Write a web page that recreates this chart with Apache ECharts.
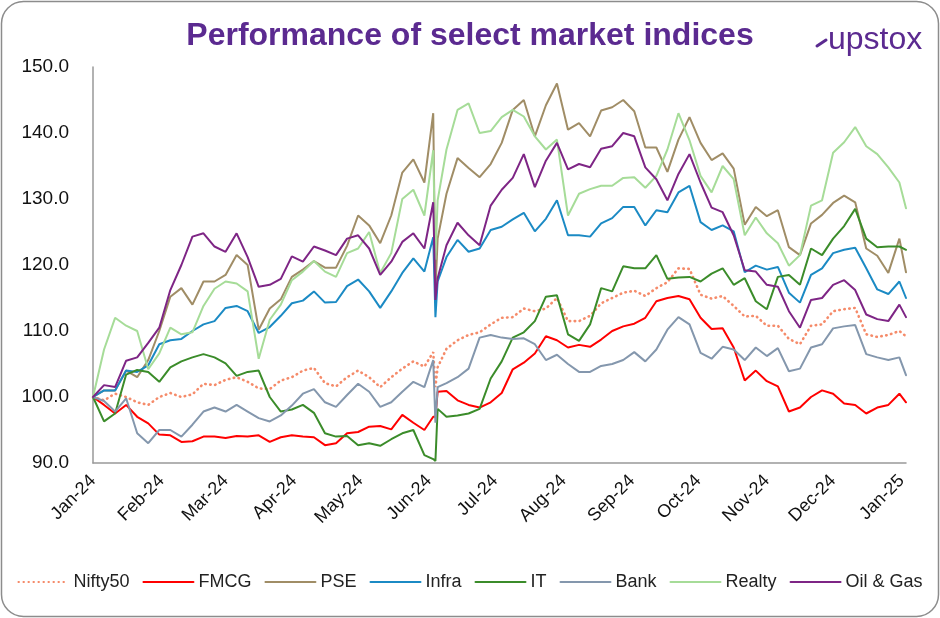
<!DOCTYPE html>
<html><head><meta charset="utf-8">
<script src="https://cdn.jsdelivr.net/npm/echarts@6/dist/echarts.min.js"></script>
<style>html,body{margin:0;padding:0;background:#fff}#c{width:940px;height:618px}</style>
</head><body><div id="c"></div>
<script>
// Sample dates (roughly every 5 calendar days, plus 3-5 June 2024)
const sampleDates = ['2024-01-01','2024-01-06','2024-01-11','2024-01-16','2024-01-21','2024-01-26','2024-01-31','2024-02-05','2024-02-10','2024-02-15','2024-02-20','2024-02-25','2024-03-01','2024-03-06','2024-03-11','2024-03-16','2024-03-21','2024-03-26','2024-03-31','2024-04-05','2024-04-10','2024-04-15','2024-04-20','2024-04-25','2024-04-30','2024-05-05','2024-05-10','2024-05-15','2024-05-20','2024-05-25','2024-05-30','2024-06-03','2024-06-04','2024-06-05','2024-06-09','2024-06-14','2024-06-19','2024-06-24','2024-06-29','2024-07-04','2024-07-09','2024-07-14','2024-07-19','2024-07-24','2024-07-29','2024-08-03','2024-08-08','2024-08-13','2024-08-18','2024-08-23','2024-08-28','2024-09-02','2024-09-07','2024-09-12','2024-09-17','2024-09-22','2024-09-27','2024-10-02','2024-10-07','2024-10-12','2024-10-17','2024-10-22','2024-10-27','2024-11-01','2024-11-06','2024-11-11','2024-11-16','2024-11-21','2024-11-26','2024-12-01','2024-12-06','2024-12-11','2024-12-16','2024-12-21','2024-12-26','2024-12-31','2025-01-03'];

const nifty50 = [100,99.5,100.5,100,99.2,98.8,100,100.6,100,100.4,102,101.8,102.6,103,102.3,101.3,101.2,102.5,103,104,104.4,102.1,101.6,103,104,103,101.5,103,104.3,105.4,104.6,106.8,101.5,104.5,107.3,108.6,109.4,109.8,111,112,112.1,113.4,113,113.4,115,111.5,111.5,112.3,114.2,115,115.8,116.1,115.3,116.5,117.4,119.5,119.4,115.5,114.9,115.3,113.8,112.2,112.3,110.8,110.8,108.8,108,110.8,111,113,113.3,113.5,109.5,109.1,109.4,110,109.2];
const fmcg = [100,98.8,97.5,98.8,97,96,94.3,94.2,93.2,93.3,94,94,93.8,94.1,94,94.2,93.2,93.9,94.2,94,93.9,92.7,93,94.5,94.7,95.5,95.6,95.1,97.3,96.1,95,97,97,100.8,100.9,99.5,98.8,98.4,99.2,100.6,104.2,105.2,106.6,109.2,108.6,107.5,107.9,107.6,108.7,110,110.7,111.1,112,114.5,115,115.3,114.8,112,110.3,110.4,107.5,102.5,104,102.4,101.6,97.8,98.4,100,101,100.5,99,98.8,97.5,98.4,98.8,100.5,99.2];
const pse = [100,101,101,104,103,105.6,110,115.2,116.5,114,117.5,117.5,118.5,121.5,120,110.2,113.4,114.8,118.2,119.3,120.6,119.6,119.6,122.9,127.5,126,123.3,127.5,134,136,132.5,143,116,124,130.8,136.2,134.7,133.3,135.3,138.5,143.5,145,139.5,144.2,147.5,140.5,141.5,139.5,143.4,143.9,145,143.3,137.8,137.8,134.1,139,142.4,138.5,135.9,136.9,134.6,126.1,128.8,127.4,128.3,122.7,121.5,126.3,127.6,129.4,130.5,129.5,122.5,121.4,118.8,124,118.9];
const infra = [100,101,101,104,103.8,104.8,108,108.6,108.8,110,111,111.5,113.5,113.8,113,109.7,110.6,112.3,114.2,114.6,116,114.3,114.4,116.8,117.8,116,113.5,116,118.8,121,119,124.2,112.1,117.5,121.2,123.8,122,122.5,125.3,125.8,126.9,127.9,125.1,127,129.8,124.5,124.5,124.3,126.3,127.1,128.8,128.8,126,128.3,128,131,132,126.5,125.3,126,125.1,118.9,119.9,119.3,119.7,115.8,114.3,118.5,119.5,121.8,122.3,122.6,119.5,116.3,115.6,117.5,115];
const it = [100,96.3,97.5,103.4,104.1,103.8,102.3,104.5,105.4,106,106.5,106,105.1,103.2,103.8,104,100,97.8,98.1,98.8,97.6,94.5,94,94.1,92.7,93,92.6,93.6,94.5,95,91.2,90.6,90.3,98.2,97,97.2,97.5,98.2,102.8,105.4,109,109.8,111.5,115.2,115.4,109.5,108.5,111,116.5,116,119.8,119.5,119.5,121.5,117.9,118.1,118.2,117.5,118.7,119.5,117,118,114.5,113.3,118.2,118.5,117,122.5,121.5,124,125.9,128.5,124,122.7,122.8,122.8,122.3];
const bank = [100,99.4,97.8,99.8,94.5,93,95,95,94,95.8,97.8,98.4,97.8,98.8,97.8,96.8,96.3,97.2,98.7,100.5,101.2,99.2,98.5,100.3,102,100.8,98.5,99.2,100.8,102.3,101.5,105.6,96.1,101.5,102.1,103,104.3,109,109.4,109,108.8,108.9,108,105.6,106.4,105,103.8,103.8,104.7,105,105.6,106.8,105.4,107.2,110.2,112.1,111,106.7,105.8,107.6,107.2,105.6,107.5,106.2,107.4,103.9,104.3,107.5,108,110.4,110.7,110.9,106.5,106,105.6,106,103.3];
const realty = [100,107.2,112,110.8,110,104.2,106.6,110.5,109.5,109.8,113.8,116.4,117.5,117.2,116,105.8,111.7,114,117.7,119,120.6,119,118.2,121.8,122.5,125,118.8,121.8,130,131.4,127.5,137.4,120.8,129.8,137.5,143.5,144.5,140,140.3,142.4,143.5,142.5,139.5,137.5,139,127.5,130.8,131.5,132,132,133.2,133.3,131.7,133.5,137.5,143,138.9,133.5,131,135,133,124.5,127.2,124.8,123.3,119.9,121.5,129,129.8,137,138.6,140.9,138,136.8,134.8,132.5,128.6];
const oilGas = [100,101.8,101.5,105.5,106,108.2,110.5,116.2,120,124.3,124.8,122.8,122,124.8,121.2,116.7,117,117.9,121.3,120.5,122.8,122.2,121.5,124,124.5,122.5,118.5,120.5,123.5,124.8,122.5,129.5,114.7,118,123,126.4,124.5,123,129,131.4,133.2,136.8,131.8,135.8,138.5,134.5,135.3,134.8,137.6,138,140,139.5,134.8,133,129.8,133.8,136.8,132.5,128.7,128,124.5,119.2,119,117,116.7,113,110.5,114.7,115,117,117.7,116.2,112.5,111.8,111.5,114,112.1];

const yTicks = [90, 100, 110, 120, 130, 140, 150];
const seriesNames = ['Nifty50','FMCG','PSE','Infra','IT','Bank','Realty','Oil & Gas'];
const seriesValues = [nifty50, fmcg, pse, infra, it, bank, realty, oilGas];
const seriesColors = ['#F58B6A','#FF0000','#A08D66','#1B8AC4','#3B8C2A','#8497AD','#A6DC98','#7E2585'];
const monthNames = ['Jan','Feb','Mar','Apr','May','Jun','Jul','Aug','Sep','Oct','Nov','Dec'];

// Full daily category axis 2024-01-01 .. 2025-01-03
const allDays = [];
{
  const start = Date.UTC(2024,0,1), end = Date.UTC(2025,0,3);
  for (let t = start; t <= end; t += 86400000) allDays.push(new Date(t).toISOString().slice(0,10));
}
const dayIndex = {};
allDays.forEach((d,i)=>dayIndex[d]=i);

const FONT = '"Liberation Sans", Arial, sans-serif';
const chart = echarts.init(document.getElementById('c'), null, {renderer:'canvas'});
chart.setOption({
  animation: false,
  backgroundColor: '#ffffff',
  grid: {left: 93, right: 34, top: 67, bottom: 155, containLabel: false},
  graphic: [
    {type:'rect', shape:{x:1.5,y:1.5,width:937,height:615,r:22}, style:{fill:'none', stroke:'#8c8c8c', lineWidth:1.5}, z:-1},
    {type:'text', x:470, y:36, style:{text:'Performance of select market indices', font:'bold 32px '+FONT, fill:'#5B2A90', textAlign:'center', textVerticalAlign:'middle', verticalAlign:'middle'}},
    {type:'polyline', shape:{points:[[817,46],[826,40]]}, style:{stroke:'#5B2A90', lineWidth:3, lineCap:'round'}},
    {type:'text', x:828, y:40, style:{text:'upstox', font:'32px '+FONT, fill:'#5B2A90', textAlign:'left', textVerticalAlign:'middle', verticalAlign:'middle'}}
  ],
  legend: {
    data: seriesNames, bottom: 22, left: 'center', itemWidth: 50, itemHeight: 10, itemGap: 13,
    itemStyle: {opacity: 0},
    textStyle: {fontFamily: FONT, fontSize: 18, color: '#222'}
  },
  xAxis: {
    type: 'category', data: allDays, boundaryGap: false,
    axisLine: {show: true, lineStyle: {color: '#999999', width: 1.5}},
    axisTick: {show: false},
    splitLine: {show: false},
    axisLabel: {
      interval: (i, v) => v.slice(8) === '01',
      rotate: 45, margin: 15, color: '#111', fontFamily: FONT, fontSize: 18,
      formatter: v => monthNames[+v.slice(5,7)-1] + '-' + v.slice(2,4)
    }
  },
  yAxis: {
    type: 'value', min: yTicks[0], max: yTicks[yTicks.length-1], interval: 10,
    axisLine: {show: true, lineStyle: {color: '#999999', width: 1.5}},
    axisTick: {show: false},
    splitLine: {show: false},
    axisLabel: {color: '#111', fontFamily: FONT, fontSize: 19, margin: 24, formatter: v => v.toFixed(1)}
  },
  series: seriesNames.map((name, k) => ({
    name, type: 'line', symbol: 'none', showSymbol: false,
    data: sampleDates.map((d, i) => [dayIndex[d], seriesValues[k][i]]),
    lineStyle: {color: seriesColors[k], width: k === 0 ? 2.6 : 2, type: k === 0 ? [0.5, 4.5] : 'solid', cap: 'round'},
    itemStyle: {color: seriesColors[k]},
    z: 2 + k
  }))
});
</script></body></html>
